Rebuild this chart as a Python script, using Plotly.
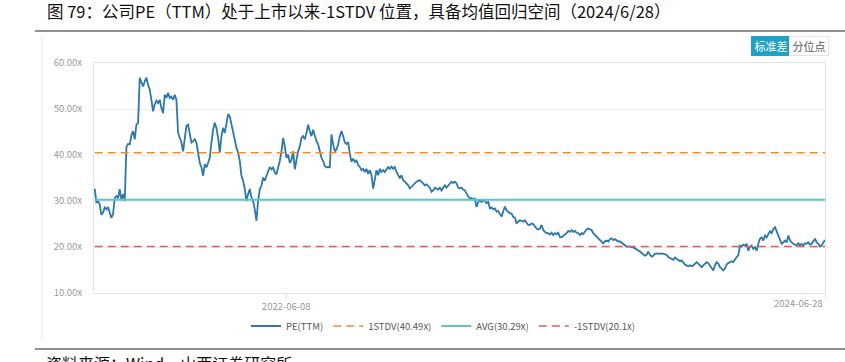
import pandas as pd
import plotly.graph_objects as go

# ---------------- data ----------------
pe_ttm = [
    # Sep 2021 - early 2022
    32.7, 29.7, 29.9, 29.3, 27.0, 27.5, 28.6, 28.2, 28.7, 27.5, 26.3, 27.2, 30.6, 31.1, 30.6,
    32.6, 30.2, 31.5, 30.0, 41.7, 42.4, 42.3, 44.3, 45.2, 43.4, 46.6, 47.0, 56.8, 56.0, 54.9,
    56.0, 56.8, 55.3, 54.2, 52.0, 49.5, 51.0, 51.8, 51.3, 52.0, 50.2, 49.1, 53.1, 52.4, 53.5,
    52.4, 52.7, 52.0, 53.1, 52.0, 44.8, 43.7, 42.7, 40.8, 43.7, 46.3, 46.6, 44.1, 42.7, 43.0,
    43.4, 42.7, 40.5, 38.3, 37.3, 35.5, 38.0, 37.3, 38.3, 39.4, 42.7, 45.5, 47.0, 45.9, 43.7,
    # 2022
    40.5, 44.1, 45.9, 44.8, 47.3, 48.9, 48.4, 46.6, 45.2, 42.7, 41.6, 40.5, 38.7, 35.5, 34.4,
    32.6, 30.0, 31.5, 32.6, 30.8, 30.0, 28.2, 25.7, 30.0, 32.6, 33.3, 35.1, 34.4, 35.5, 36.5,
    37.4, 36.9, 37.3, 36.2, 35.8, 37.3, 38.7, 40.8, 43.7, 41.9, 39.4, 40.1, 38.3, 39.0, 40.8,
    36.9, 39.4, 40.8, 41.9, 43.7, 44.1, 43.4, 44.8, 46.6, 45.2, 44.1, 45.5, 44.1, 43.0, 42.3,
    40.5, 39.4, 38.7, 37.6, 37.3, 37.4, 37.3, 44.5, 42.3, 40.8, 41.2, 42.3, 44.1, 45.2, 44.1,
    42.7,
    # late 2022 - 2023
    42.4, 42.8, 40.3, 38.5, 39.2, 38.5, 38.8, 37.8, 37.4, 36.7, 37.0, 36.3, 37.0, 35.9, 36.7,
    35.6, 32.7, 35.2, 36.7, 35.6, 37.0, 36.3, 36.7, 36.3, 37.0, 37.4, 37.0, 37.5, 37.0, 37.4,
    36.3, 35.6, 34.9, 35.6, 34.5, 34.2, 33.8, 33.4, 32.7, 33.1, 33.4, 33.8, 34.2, 34.4, 34.5,
    34.2, 33.8, 33.4, 33.6, 33.2, 32.9, 32.0, 32.3, 32.9, 32.7, 32.5, 32.9, 32.3, 32.9, 33.4,
    32.9, 33.4, 33.8, 34.2, 33.9, 34.2, 33.8, 32.9, 32.7, 32.9, 32.5, 32.3, 31.6, 30.9, 30.5,
    30.7, 30.3, 30.5, 28.7, 29.8, 30.2, 29.8, 30.2, 30.0, 29.5, 29.8, 28.4, 28.6, 28.2, 28.4,
    27.7, 27.8, 27.3, 26.6, 27.7, 28.8, 28.0, 27.7, 27.3,
    # 2023
    27.3, 26.5, 26.4, 25.1, 25.5, 25.8, 25.7, 25.5, 25.8, 25.3, 24.8, 24.8, 25.1, 25.0, 24.4,
    24.0, 23.8, 24.0, 24.8, 23.7, 23.3, 23.0, 23.0, 22.7, 23.1, 22.6, 23.0, 22.8, 23.1, 22.2,
    22.1, 22.4, 22.6, 23.0, 23.5, 23.3, 23.7, 23.3, 23.5, 23.1, 23.0, 22.6, 23.0, 22.8, 23.3,
    23.8, 24.0, 23.8, 23.7, 23.0, 22.6, 22.2, 21.9, 21.4, 21.2, 20.8, 21.2, 21.4, 21.2, 21.7,
    21.9, 21.5, 21.7, 21.4, 21.2, 21.2, 20.9, 20.7, 20.4, 20.1, 20.1, 20.1, 19.9, 19.9, 19.7,
    19.5, 19.2, 19.0, 18.7, 18.3, 18.1, 18.3, 19.0, 18.3, 17.9, 18.1, 18.5, 18.6, 18.5, 18.5,
    18.6, 18.5, 18.3, 18.3, 17.8, 17.6,
    # 2024
    17.5, 17.2, 17.7, 17.4, 17.1, 16.9, 17.1, 16.5, 16.2, 16.0, 15.8, 16.0, 15.8, 16.0, 16.4,
    16.7, 16.4, 16.0, 15.6, 16.0, 16.4, 16.7, 16.5, 16.0, 15.6, 14.9, 16.0, 16.7, 16.4, 15.6,
    15.3, 14.9, 15.3, 16.2, 16.5, 16.7, 16.9, 16.7, 17.4, 17.8, 18.2, 20.3, 20.1, 20.5, 20.3,
    20.7, 19.2, 20.0, 20.3, 19.6, 20.0, 19.2, 20.7, 21.8, 22.1, 21.4, 22.5, 22.1, 22.8, 23.4,
    23.0, 23.9, 24.3, 23.4, 22.8, 21.8, 20.7, 21.0, 21.4, 21.0, 22.5, 21.4, 21.0, 20.7, 20.5,
    20.3, 20.8, 20.3, 20.7, 20.3, 20.8, 20.7, 21.0, 20.5, 20.7, 21.3, 21.8, 21.0, 20.7, 20.1,
    20.3, 21.0, 21.5,
]
first_date = "2021-09-14"
last_date = "2024-06-28"
axis_start = "2021-09-13"
tick_dates = ["2022-06-08", "2024-06-28"]

stdv_plus = 40.49
avg_value = 30.29
stdv_minus = 20.1
series_names = ["PE(TTM)", "1STDV(40.49x)", "AVG(30.29x)", "-1STDV(20.1x)"]
y_ticks = [10, 20, 30, 40, 50, 60]
y_tick_text = ["10.00x", "20.00x", "30.00x", "40.00x", "50.00x", "60.00x"]

title_text = "图 79：公司PE（TTM）处于上市以来-1STDV 位置，具备均值回归空间（2024/6/28）"
source_text = "资料来源：Wind，山西证券研究所"
buttons = ["标准差", "分位点"]

# ---------------- figure ----------------
dates = pd.date_range(first_date, last_date, periods=len(pe_ttm))
ends = [dates[0], dates[-1]]

W, H = 845, 362
L, R, T, B = 94, 825, 63, 293


def px(x):
    return (x - L) / (R - L)


def py(y):
    return (B - y) / (B - T)


FONT = "Noto Sans CJK SC"

fig = go.Figure()
fig.add_trace(go.Scatter(x=dates, y=pe_ttm, mode="lines", name=series_names[0],
                         line=dict(color="#2b78a9", width=1.8)))
fig.add_trace(go.Scatter(x=ends, y=[stdv_plus] * 2, mode="lines", name=series_names[1],
                         line=dict(color="#ff8a1e", width=1.6, dash="8px,5px")))
fig.add_trace(go.Scatter(x=ends, y=[avg_value] * 2, mode="lines", name=series_names[2],
                         line=dict(color="#5ec3c5", width=2)))
fig.add_trace(go.Scatter(x=ends, y=[stdv_minus] * 2, mode="lines", name=series_names[3],
                         line=dict(color="#f0545c", width=1.6, dash="8px,5px")))

fig.update_layout(
    width=W, height=H,
    margin=dict(l=L, r=W - R, t=T, b=H - B, autoexpand=False),
    paper_bgcolor="white", plot_bgcolor="white",
    font=dict(family=FONT, size=10, color="#999999"),
    showlegend=True,
    legend=dict(orientation="h", x=px(443), xanchor="center", y=py(326), yanchor="middle",
                font=dict(size=9.5, color="#555555"), itemwidth=30, bgcolor="rgba(0,0,0,0)"),
    hovermode=False,
)
fig.update_xaxes(
    type="date", range=[axis_start, last_date], automargin=False,
    tickvals=tick_dates, ticktext=[tick_dates[0], ""],
    showgrid=False, showline=True, mirror=True, linecolor="#dfe3ea", linewidth=1,
    ticks="outside", ticklen=5, tickcolor="#dfe3ea",
    tickfont=dict(size=9.5, color="#999999"), zeroline=False,
)
fig.update_yaxes(
    range=[10, 60], tickvals=y_ticks, ticktext=y_tick_text, automargin=False,
    showgrid=True, gridcolor="#eeeeee", showline=True, mirror=True,
    linecolor="#dfe3ea", linewidth=1, ticks="", ticklabelstandoff=9,
    tickfont=dict(size=9.5, color="#999999"), zeroline=False,
)

ann = []
ann.append(dict(text=title_text, x=px(45), y=py(11), xref="paper", yref="paper",
                xanchor="left", yanchor="middle", showarrow=False,
                font=dict(family=FONT, size=16.5, color="#111111")))
ann.append(dict(text=source_text, x=px(44), y=py(349), xref="paper", yref="paper",
                xanchor="left", yanchor="top", showarrow=False,
                font=dict(family=FONT, size=16, color="#111111")))
ann.append(dict(text=tick_dates[1], x=1, y=py(303), xref="paper", yref="paper",
                xanchor="right", yanchor="middle", showarrow=False,
                font=dict(family=FONT, size=9.5, color="#999999")))
ann.append(dict(text=buttons[0], x=px(771), y=py(46), xref="paper", yref="paper",
                xanchor="center", yanchor="middle", showarrow=False, width=36, height=16,
                bgcolor="#1fa2c5", bordercolor="#1fa2c5", borderwidth=1,
                font=dict(family=FONT, size=11, color="white")))
ann.append(dict(text=buttons[1], x=px(809), y=py(46), xref="paper", yref="paper",
                xanchor="center", yanchor="middle", showarrow=False, width=36, height=16,
                bgcolor="white", bordercolor="#e3e3e3", borderwidth=1,
                font=dict(family=FONT, size=11, color="#555555")))
fig.update_layout(annotations=ann)

shapes = [
    dict(type="line", xref="paper", yref="paper", x0=px(35), x1=px(845), y0=py(31), y1=py(31),
         line=dict(color="#222222", width=1)),
    dict(type="line", xref="paper", yref="paper", x0=px(35), x1=px(845), y0=py(349), y1=py(349),
         line=dict(color="#222222", width=1)),
    dict(type="line", xref="paper", yref="paper", x0=px(42), x1=px(42), y0=py(36), y1=py(340),
         line=dict(color="#e6e6e6", width=1)),
]
fig.update_layout(shapes=shapes)

fig.write_html("out.html", config={"displayModeBar": False},
               post_script="document.body.style.margin='0';")
